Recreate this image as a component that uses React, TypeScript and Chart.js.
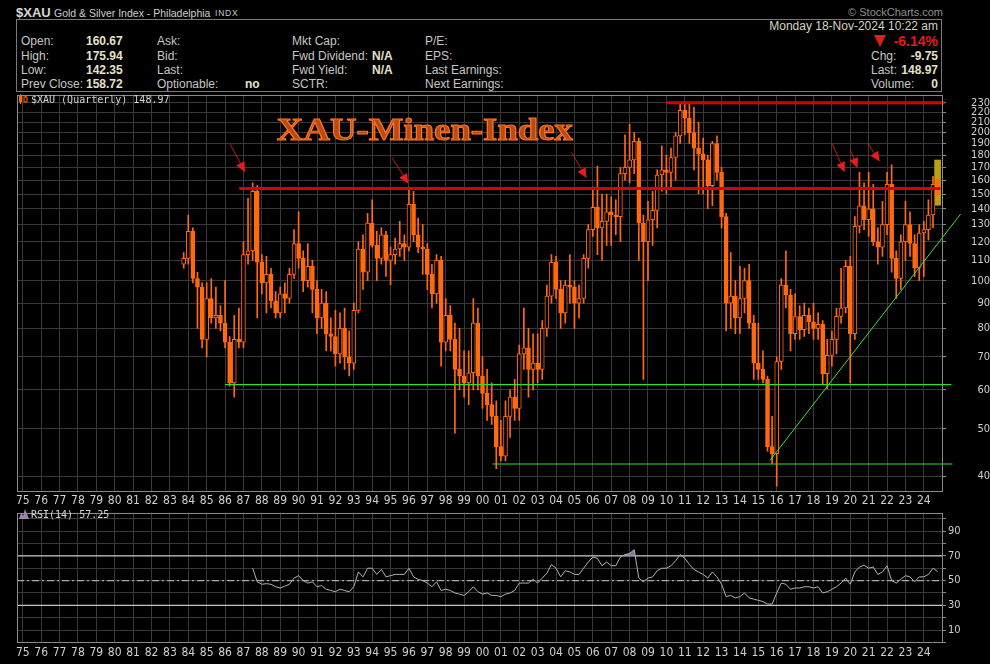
import React, { useEffect, useRef } from "react";
import { Chart, registerables } from "chart.js";

Chart.register(...registerables);

// ---------------- data ----------------
const FIRST_YEAR = 1983;
const FIRST_QUARTER = 4; // first candle = 1983 Q4

// quarterly OHLC, 1983Q4 .. 2024Q4
const opens = [
  108,
  111, 126, 101, 97,
  76, 92, 84, 85,
  82, 75, 62, 76,
  75, 113, 115, 152,
  109, 99, 103, 91,
  86, 94, 92, 103,
  119, 111, 100, 107,
  96, 84, 90, 78,
  77, 71, 80, 70,
  68, 87, 116, 104,
  131, 118, 111, 124,
  110, 113, 116, 119,
  117, 143, 124, 117,
  116, 103, 94, 110,
  75, 85, 76, 66,
  64, 62, 65, 82,
  64, 59, 56, 53,
  46, 44, 53, 58,
  55, 71, 73, 66,
  68, 66, 80, 93,
  109, 96, 86, 98,
  97, 90, 92, 111,
  127, 141, 128, 132,
  138, 136, 135, 165,
  170, 176, 192, 131,
  120, 133, 139, 164,
  168, 166, 178, 197,
  222, 214, 200, 186,
  181, 176, 156, 190,
  166, 135, 90, 93,
  84, 92, 100, 82,
  68, 66, 63, 46,
  44.5, 68.5, 98, 93.5,
  78, 84.5, 79.5, 85,
  82.5, 80, 81.5, 64.7,
  70.5, 76, 84.6, 88,
  107, 78, 129, 142,
  133, 140, 120, 117,
  130, 157, 111, 101,
  120, 130, 119, 106,
  125, 127, 136, 160.67,
];
const highs = [
  114,
  136, 128, 104, 99,
  99, 101, 97, 89,
  100, 77, 85, 88,
  120, 147, 158, 156,
  113, 112, 106, 95,
  97, 99, 106, 127,
  138, 115, 119, 110,
  100, 96, 95, 84,
  87, 86, 88, 79,
  90, 120, 124, 137,
  146, 126, 128, 126,
  117, 122, 132, 124,
  155, 152, 134, 130,
  119, 108, 113, 112,
  92, 89, 82, 80,
  72, 72, 92, 88,
  70, 66, 62, 57,
  52, 57, 60, 63,
  74, 88, 80, 78,
  78, 83, 98, 113,
  112, 100, 100, 113,
  100, 98, 113, 130,
  155, 171, 150, 150,
  148, 146, 170, 198,
  208, 200, 195, 136,
  145, 152, 168, 188,
  180, 186, 200, 229,
  231, 229, 225, 210,
  195, 180, 192, 197,
  170, 137, 114, 100,
  107, 106, 108, 85,
  82, 72, 64, 53,
  70, 101, 115, 96,
  94, 89, 90, 88,
  90, 86, 83, 76,
  79, 88, 106, 110,
  112, 135, 166, 158,
  166, 157, 128, 145,
  166, 172, 115, 124,
  145, 138, 124, 130,
  132, 146, 163, 175.94,
];
const lows = [
  106,
  108, 99, 80, 73,
  70, 82, 80, 79,
  73, 61, 58, 73,
  73, 108, 110, 84,
  94, 86, 88, 84,
  84, 86, 90, 101,
  106, 95, 97, 86,
  78, 80, 72, 72,
  67, 68, 66, 64,
  66, 86, 96, 100,
  117, 100, 108, 102,
  98, 108, 112, 110,
  115, 120, 114, 103,
  96, 88, 90, 67,
  72, 72, 49, 60,
  58, 56, 60, 60,
  55, 52, 51, 41.5,
  43, 43, 48, 52,
  52, 66, 58, 60,
  62, 63, 77, 90,
  92, 80, 82, 90,
  80, 84, 90, 106,
  123, 113, 110, 118,
  118, 124, 120, 160,
  158, 165, 110, 63,
  100, 118, 128, 152,
  150, 155, 160, 190,
  198, 190, 168, 150,
  150, 140, 142, 160,
  128, 79, 80, 78,
  78, 86, 80, 63,
  63, 62, 45, 42.5,
  38.2, 66, 88, 72,
  76, 76, 77, 78,
  76, 76, 61.5, 60.3,
  67, 71, 82, 86,
  62, 76, 125, 127,
  123, 118, 108, 112,
  124, 104, 92, 96,
  110, 112, 102, 100,
  102, 121, 128, 142.35,
];
const closes = [
  111,
  126, 101, 97, 76,
  92, 84, 85, 82,
  75, 62, 76, 75,
  113, 115, 152, 109,
  99, 103, 91, 86,
  94, 92, 103, 119,
  111, 100, 107, 96,
  84, 90, 78, 77,
  71, 80, 70, 68,
  87, 116, 104, 131,
  118, 111, 124, 110,
  113, 116, 119, 117,
  143, 124, 117, 116,
  103, 94, 110, 75,
  85, 76, 66, 64,
  62, 65, 82, 64,
  59, 56, 53, 46,
  44, 53, 58, 55,
  71, 73, 66, 68,
  66, 80, 93, 109,
  96, 86, 98, 97,
  90, 92, 111, 127,
  141, 128, 132, 138,
  136, 135, 165, 170,
  176, 192, 131, 120,
  133, 139, 164, 168,
  166, 178, 197, 222,
  214, 200, 186, 181,
  176, 156, 190, 166,
  135, 90, 93, 84,
  92, 100, 82, 68,
  66, 63, 46, 44.5,
  68.5, 98, 93.5, 78,
  84.5, 79.5, 85, 82.5,
  80, 81.5, 64.7, 70.5,
  76, 84.6, 88, 107,
  78, 129, 142, 133,
  140, 120, 117, 130,
  157, 111, 101, 120,
  130, 119, 106, 125,
  127, 136, 157, 148.97,
];

// RSI(14), quarterly, from 1987 Q3
const RSI_FIRST_TIME = 1987.5;
const rsiValues = [
  60, 49, 47, 47.5, 47, 45, 44, 45.5, 47, 52,
  54, 50, 48, 49, 45, 46, 43, 42, 41, 43,
  42, 41, 45, 57, 53, 60, 60, 55, 59, 53,
  54, 55, 55, 55, 60, 53, 51, 50, 48, 45,
  49, 42, 43, 42, 40, 39, 38, 41, 45, 41,
  39, 40, 38, 38, 37, 39, 40, 42, 48, 48,
  48, 51, 48, 52, 56, 63, 60, 53, 58, 57,
  55, 55, 60, 65, 69, 68, 62, 65, 62, 62,
  69, 71, 72, 75, 52, 49, 52, 53, 58, 60,
  60, 62, 66, 71, 68, 63, 59, 57, 55, 52,
  57, 53, 47, 37, 38, 36, 37, 40, 36, 35,
  34, 33, 31, 31, 40, 48, 47, 43, 44, 44,
  45, 45, 44, 45, 40, 41, 43, 45, 48, 52,
  47, 57, 61, 62.5, 60, 61, 55, 57, 62, 50,
  48, 51, 54, 53, 49, 53, 53, 55, 60, 57.25,
];

// axis ticks
const yearLabels = [
  "75", "76", "77", "78", "79", "80", "81", "82", "83", "84",
  "85", "86", "87", "88", "89", "90", "91", "92", "93", "94",
  "95", "96", "97", "98", "99", "00", "01", "02", "03", "04",
  "05", "06", "07", "08", "09", "10", "11", "12", "13", "14",
  "15", "16", "17", "18", "19", "20", "21", "22", "23", "24",
];
const FIRST_LABEL_YEAR = 1975;
const priceTicks = [40, 50, 60, 70, 80, 90, 100, 110, 120, 130, 140, 150, 160, 170, 180, 190, 200, 210, 220, 230];
const rsiGridTicks = [0, 10, 20, 30, 40, 50, 60, 70, 80, 90, 100];
const rsiLabelTicks = [10, 30, 50, 70, 90];
const rsiBandLevels = [30, 70];
const rsiMidLevel = 50;

// annotations (chart units: year, price)
const redLevels = [230, 154];
const redStarts = [2010.0, 1986.77];
const redEnds = [2025.13, 2024.9];
const greenLevels = [61.5, 42.4];
const greenStarts = [1986.0, 2000.55];
const greenEnds = [2025.5, 2025.55];
const trendTimes = [2015.63, 2026.0];
const trendPrices = [43.1, 136.6];
const arrowFromT = [1986.28, 1995.07, 2004.85, 2019.01, 2019.99, 2020.93];
const arrowFromP = [189.4, 178.1, 182.3, 190.3, 185.1, 190.9];
const arrowToT = [1987.09, 1995.97, 2005.66, 2019.7, 2020.39, 2021.6];
const arrowToP = [166.1, 157.4, 161.6, 166.1, 169.2, 174.6];
const titleText = "XAU-Minen-Index";
const titleStartT = 1988.815;
const titleEndT = 2004.92;
const titleBaseP = 193.4;

// ---------------- styling ----------------
const ORANGE = "#ff6a10";
const GRID = "#383838";
const FRAME = "#8a8a8a";
const TICK_TEXT = "#cfcfcf";
const AXIS_FONT = '"Liberation Sans Narrow", "DejaVu Sans Condensed", "Liberation Sans", Arial, sans-serif';
const X_MIN = 1974.685;
const X_MAX = 2025.043;

const quarterTime = (i: number) => FIRST_YEAR + (FIRST_QUARTER - 1 + i) / 4;

const framePlugin = {
  id: "frame",
  afterDraw(chart: any) {
    const { ctx, chartArea: a } = chart;
    ctx.save();
    ctx.strokeStyle = FRAME;
    ctx.lineWidth = 1;
    ctx.strokeRect(Math.round(a.left) + 0.5, Math.round(a.top) + 0.5, Math.round(a.right - a.left) - 1, Math.round(a.bottom - a.top) - 1);
    ctx.restore();
  },
};

const annotationPlugin = {
  id: "xauAnnotations",
  afterDatasetsDraw(chart: any) {
    const { ctx } = chart;
    const xs = chart.scales.x;
    const ys = chart.scales.y;
    ctx.save();
    // arrows
    for (let i = 0; i < arrowToT.length; i++) {
      const x0 = xs.getPixelForValue(arrowFromT[i]);
      const y0 = ys.getPixelForValue(arrowFromP[i]);
      const x1 = xs.getPixelForValue(arrowToT[i]);
      const y1 = ys.getPixelForValue(arrowToP[i]);
      const ang = Math.atan2(y1 - y0, x1 - x0);
      const head = 10;
      const half = 4.5;
      const bx = x1 - head * Math.cos(ang);
      const by = y1 - head * Math.sin(ang);
      ctx.strokeStyle = "#c81818";
      ctx.lineWidth = 1;
      ctx.beginPath();
      ctx.moveTo(x0, y0);
      ctx.lineTo(bx, by);
      ctx.stroke();
      ctx.fillStyle = "#e81c1c";
      ctx.beginPath();
      ctx.moveTo(x1, y1);
      ctx.lineTo(bx + half * Math.sin(ang), by - half * Math.cos(ang));
      ctx.lineTo(bx - half * Math.sin(ang), by + half * Math.cos(ang));
      ctx.closePath();
      ctx.fill();
    }
    // title
    const tx0 = xs.getPixelForValue(titleStartT);
    const tx1 = xs.getPixelForValue(titleEndT);
    const ty = ys.getPixelForValue(titleBaseP);
    ctx.font = 'bold 32px "Liberation Serif", "DejaVu Serif", serif';
    ctx.textBaseline = "alphabetic";
    const w = ctx.measureText(titleText).width;
    ctx.translate(tx0, ty);
    ctx.scale((tx1 - tx0) / w, 1);
    ctx.fillStyle = "#b84a12";
    ctx.fillText(titleText, 0, 0);
    ctx.strokeStyle = "#ff7424";
    ctx.lineWidth = 1.1;
    ctx.strokeText(titleText, 0, 0);
    ctx.restore();
  },
};

function xScale(height: number, labelPad: number) {
  return {
    type: "linear",
    min: X_MIN,
    max: X_MAX,
    offset: false,
    afterBuildTicks: (s: any) => {
      s.ticks = yearLabels.map((_, i) => ({ value: FIRST_LABEL_YEAR + i }));
    },
    afterFit: (s: any) => {
      s.height = height;
    },
    ticks: {
      autoSkip: false,
      maxRotation: 0,
      minRotation: 0,
      padding: labelPad,
      color: TICK_TEXT,
      font: { family: AXIS_FONT, size: 12 },
      callback: (v: number) => yearLabels[Math.round(v) - FIRST_LABEL_YEAR] ?? "",
    },
    grid: { color: GRID, offset: false, drawTicks: false, lineWidth: 1 },
    border: { display: false },
  };
}

function buildMainConfig(): any {
  const wicks = highs.map((h, i) => ({ x: quarterTime(i), y: [lows[i], h] }));
  const bodies = opens.map((o, i) => ({ x: quarterTime(i), y: [o, closes[i]] }));
  const bodyFill = opens.map((o, i) => (closes[i] < o ? ORANGE : "#000000"));
  const last = highs.length - 1;

  const lineDs = (pts: { x: number; y: number }[], color: string, width: number) => ({
    type: "line",
    data: pts,
    borderColor: color,
    borderWidth: width,
    pointRadius: 0,
    tension: 0,
    fill: false,
    clip: false,
    order: 0,
  });

  const datasets: any[] = [];
  redLevels.forEach((v, i) =>
    datasets.push(lineDs([{ x: redStarts[i], y: v }, { x: redEnds[i], y: v }], "#d80000", 3))
  );
  greenLevels.forEach((v, i) =>
    datasets.push(lineDs([{ x: greenStarts[i], y: v }, { x: greenEnds[i], y: v }], "#2fe02f", 1.2))
  );
  datasets.push(lineDs(trendTimes.map((t, i) => ({ x: t, y: trendPrices[i] })), "#3fe03f", 1));

  datasets.push({
    type: "bar",
    data: bodies,
    backgroundColor: bodyFill,
    borderColor: ORANGE,
    borderWidth: 1,
    borderSkipped: false,
    barThickness: 4,
    grouped: false,
    order: 1,
  });
  datasets.push({
    type: "bar",
    data: [{ x: quarterTime(last), y: [lows[last], highs[last]] }],
    backgroundColor: "#b9a014",
    borderWidth: 0,
    barThickness: 6,
    grouped: false,
    order: 2,
  });
  datasets.push({
    type: "bar",
    data: wicks,
    backgroundColor: ORANGE,
    borderWidth: 0,
    barThickness: 1,
    grouped: false,
    order: 3,
  });

  return {
    type: "bar",
    data: { datasets },
    options: {
      animation: false,
      responsive: false,
      maintainAspectRatio: false,
      events: [],
      layout: { padding: { left: 17, top: 7, right: 0, bottom: 0 } },
      plugins: { legend: { display: false }, tooltip: { enabled: false } },
      scales: {
        x: xScale(18, 2),
        y: {
          type: "logarithmic",
          position: "right",
          min: 37.19,
          max: 238.9,
          afterBuildTicks: (s: any) => {
            s.ticks = priceTicks.map((v) => ({ value: v }));
          },
          afterFit: (s: any) => {
            s.width = 47;
          },
          ticks: {
            autoSkip: false,
            padding: 3,
            crossAlign: "far",
            color: TICK_TEXT,
            font: { family: AXIS_FONT, size: 11 },
            callback: (v: number) => String(v),
          },
          grid: { color: GRID, drawTicks: true, tickLength: 3, tickColor: FRAME },
          border: { display: false },
        },
      },
    },
    plugins: [framePlugin, annotationPlugin],
  };
}

function buildRsiConfig(): any {
  const rsiPts = rsiValues.map((v, i) => ({ x: RSI_FIRST_TIME + i / 4, y: v }));
  const levelLine = (v: number, color: string, dash: number[]) => ({
    data: [{ x: X_MIN, y: v }, { x: X_MAX, y: v }],
    borderColor: color,
    borderWidth: 1.2,
    borderDash: dash,
    pointRadius: 0,
    fill: false,
    order: 2,
  });
  return {
    type: "line",
    data: {
      datasets: [
        {
          data: rsiPts,
          borderColor: "#b2b2b2",
          borderWidth: 1,
          pointRadius: 0,
          tension: 0,
          fill: { target: { value: 70 }, above: "rgba(150,128,172,0.9)", below: "rgba(0,0,0,0)" },
          order: 0,
        },
        ...rsiBandLevels.map((v) => levelLine(v, "#c4c4c4", [])),
        levelLine(rsiMidLevel, "#a8a8a8", [7, 3, 2, 3]),
      ],
    },
    options: {
      animation: false,
      responsive: false,
      maintainAspectRatio: false,
      events: [],
      layout: { padding: { left: 17, top: 4, right: 0, bottom: 0 } },
      plugins: { legend: { display: false }, tooltip: { enabled: false } },
      scales: {
        x: xScale(21, 3),
        y: {
          type: "linear",
          position: "right",
          min: -0.5,
          max: 105,
          afterBuildTicks: (s: any) => {
            s.ticks = rsiGridTicks.map((v) => ({ value: v }));
          },
          afterFit: (s: any) => {
            s.width = 47;
          },
          ticks: {
            autoSkip: false,
            padding: 2,
            color: TICK_TEXT,
            font: { family: AXIS_FONT, size: 11 },
            callback: (v: number) => (rsiLabelTicks.includes(v) ? String(v) : ""),
          },
          grid: { color: GRID, drawTicks: true, tickLength: 3, tickColor: FRAME },
          border: { display: false },
        },
      },
    },
    plugins: [framePlugin],
  };
}

// ---------------- header text ----------------
type TP = { x: number; y: number; t: string; b?: boolean; c?: string; s?: number; r?: boolean; f?: string; ls?: number };
const SANS = '"Liberation Sans", Arial, sans-serif';
const Txt = ({ x, y, t, b, c, s = 12, r, f, ls }: TP) => (
  <div
    style={{
      position: "absolute",
      top: y - 8,
      height: 16,
      lineHeight: "16px",
      ...(r ? { right: 990 - x } : { left: x }),
      color: c ?? "#c6c6c6",
      fontWeight: b ? 700 : 400,
      fontSize: s,
      fontFamily: f ?? SANS,
      whiteSpace: "nowrap",
      letterSpacing: ls,
    }}
  >
    {t}
  </div>
);

const VAL = "#e4e2c8";
const rowY = [41, 55.7, 70, 84.3];

export default function App() {
  const mainRef = useRef<HTMLCanvasElement>(null);
  const rsiRef = useRef<HTMLCanvasElement>(null);

  useEffect(() => {
    const c1 = new Chart(mainRef.current as HTMLCanvasElement, buildMainConfig());
    const c2 = new Chart(rsiRef.current as HTMLCanvasElement, buildRsiConfig());
    return () => {
      c1.destroy();
      c2.destroy();
    };
  }, []);

  return (
    <div style={{ position: "absolute", left: 0, top: 0, width: 990, height: 664, background: "#000", overflow: "hidden" }}>
      <Txt x={16} y={12.5} t="$XAU" b s={13} c="#d8d8d8" />
      <Txt x={54} y={12.5} t="Gold & Silver Index - Philadelphia" s={10.5} c="#cfcfcf" />
      <Txt x={215} y={13} t="INDX" s={8.5} c="#c8c8c8" ls={0.8} />
      <Txt x={943} y={11.5} t="© StockCharts.com" s={11} c="#8e8e8e" r />
      <div style={{ position: "absolute", left: 16, top: 19, width: 926, height: 73, border: "1px solid #7a7a7a", boxSizing: "border-box" }} />

      {["Open:", "High:", "Low:", "Prev Close:"].map((l, i) => (
        <Txt key={"a" + i} x={21} y={rowY[i]} t={l} />
      ))}
      {["160.67", "175.94", "142.35", "158.72"].map((l, i) => (
        <Txt key={"b" + i} x={86} y={rowY[i]} t={l} b c={VAL} />
      ))}
      {["Ask:", "Bid:", "Last:", "Optionable:"].map((l, i) => (
        <Txt key={"c" + i} x={157} y={rowY[i]} t={l} />
      ))}
      <Txt x={245} y={rowY[3]} t="no" b c={VAL} />
      {["Mkt Cap:", "Fwd Dividend:", "Fwd Yield:", "SCTR:"].map((l, i) => (
        <Txt key={"d" + i} x={292} y={rowY[i]} t={l} />
      ))}
      <Txt x={372} y={rowY[1]} t="N/A" b c={VAL} />
      <Txt x={372} y={rowY[2]} t="N/A" b c={VAL} />
      {["P/E:", "EPS:", "Last Earnings:", "Next Earnings:"].map((l, i) => (
        <Txt key={"e" + i} x={425} y={rowY[i]} t={l} />
      ))}

      <Txt x={938} y={26} t="Monday  18-Nov-2024  10:22 am" r c="#d6d4c0" />
      <Txt x={938} y={41} t="-6.14%" b s={14} c="#e01c1c" r />
      <div style={{ position: "absolute", left: 874, top: 35, width: 0, height: 0, borderLeft: "6px solid transparent", borderRight: "6px solid transparent", borderTop: "12px solid #e01c1c" }} />
      <Txt x={871} y={rowY[1]} t="Chg:" />
      <Txt x={938} y={rowY[1]} t="-9.75" b c={VAL} r />
      <Txt x={871} y={rowY[2]} t="Last:" />
      <Txt x={938} y={rowY[2]} t="148.97" b c={VAL} r />
      <Txt x={871} y={rowY[3]} t="Volume:" />
      <Txt x={938} y={rowY[3]} t="0" b c={VAL} r />

      <div style={{ position: "absolute", left: 0, top: 85, width: 990, height: 425 }}>
        <canvas ref={mainRef} width={990} height={425} style={{ width: 990, height: 425, display: "block" }} />
      </div>
      <div style={{ position: "absolute", left: 0, top: 504, width: 990, height: 160 }}>
        <canvas ref={rsiRef} width={990} height={160} style={{ width: 990, height: 160, display: "block" }} />
      </div>

      {/* panel legends */}
      <svg style={{ position: "absolute", left: 18, top: 94 }} width={10} height={10}>
        <rect x={1} y={2} width={3} height={6} fill={ORANGE} />
        <line x1={2.5} y1={0} x2={2.5} y2={10} stroke={ORANGE} strokeWidth={1} />
        <rect x={6} y={3} width={3} height={5} fill="none" stroke={ORANGE} strokeWidth={1} />
        <line x1={7.5} y1={1} x2={7.5} y2={3} stroke={ORANGE} strokeWidth={1} />
      </svg>
      <Txt x={31} y={99.5} t="$XAU (Quarterly) 148.97" s={10} f='"DejaVu Sans Mono", "Liberation Mono", monospace' c="#d4d4d4" />
      <svg style={{ position: "absolute", left: 19, top: 509 }} width={10} height={10}>
        <polygon points="0,10 2,4 4,7 6,0 8,5 10,10" fill="#9a86b0" />
      </svg>
      <Txt x={31} y={514.5} t="RSI(14) 57.25" s={10} f='"DejaVu Sans Mono", "Liberation Mono", monospace' c="#d4d4d4" />
    </div>
  );
}
